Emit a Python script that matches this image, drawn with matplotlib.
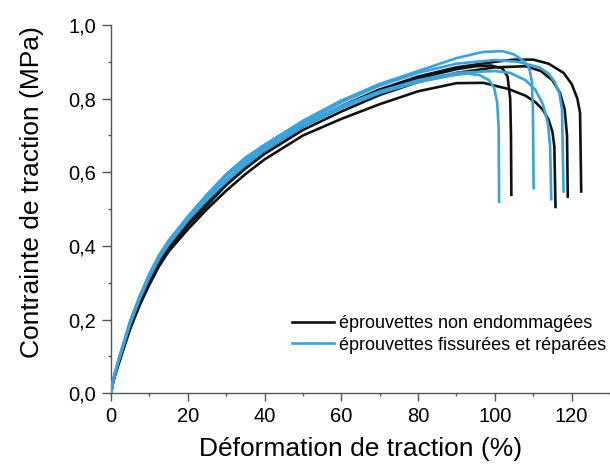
import matplotlib
matplotlib.use("Agg")
import matplotlib.pyplot as plt
from matplotlib.ticker import FuncFormatter, MultipleLocator

# Courbes contrainte-déformation, lues sur la figure
# éprouvettes non endommagées (noir)
STRAIN_NE1 = [0, 0.5, 1, 2, 3.5, 5, 7.5, 10, 12.5, 15, 20, 25, 30, 35, 40, 50, 60, 70, 80, 90,
              95, 99, 102, 103.3, 104, 104.2, 104.3]
STRESS_NE1 = [0, 0.03, 0.05, 0.085, 0.135, 0.185, 0.25, 0.305, 0.355, 0.395, 0.46, 0.52, 0.575, 0.62, 0.66, 0.725, 0.775, 0.82, 0.855, 0.88,
              0.888, 0.89, 0.882, 0.86, 0.80, 0.70, 0.539]

STRAIN_NE2 = [0, 0.5, 1, 2, 3.5, 5, 7.5, 10, 12.5, 15, 20, 25, 30, 35, 40, 50, 60, 70, 80, 90,
              97, 103.6, 108, 110.6, 112.5, 114, 115, 115.5, 115.8]
STRESS_NE2 = [0, 0.028, 0.047, 0.08, 0.128, 0.175, 0.24, 0.295, 0.345, 0.385, 0.445, 0.5, 0.55, 0.595, 0.635, 0.7, 0.745, 0.785, 0.82, 0.842,
              0.843, 0.826, 0.808, 0.79, 0.77, 0.743, 0.71, 0.67, 0.506]

STRAIN_NE3 = [0, 0.5, 1, 2, 3.5, 5, 7.5, 10, 12.5, 15, 20, 25, 30, 35, 40, 50, 60, 70, 80, 90,
              100, 108, 112, 115, 117, 118.2, 118.8, 119]
STRESS_NE3 = [0, 0.03, 0.05, 0.083, 0.132, 0.18, 0.245, 0.3, 0.35, 0.39, 0.455, 0.51, 0.565, 0.61, 0.65, 0.715, 0.765, 0.81, 0.845, 0.87,
              0.885, 0.888, 0.875, 0.85, 0.815, 0.77, 0.70, 0.534]

STRAIN_NE4 = [0, 0.5, 1, 2, 3.5, 5, 7.5, 10, 12.5, 15, 20, 25, 30, 35, 40, 50, 60, 70, 80, 90,
              100, 105, 110, 114, 117.9, 120, 121.5, 122.2, 122.5]
STRESS_NE4 = [0, 0.03, 0.05, 0.085, 0.135, 0.185, 0.25, 0.305, 0.355, 0.395, 0.46, 0.52, 0.57, 0.62, 0.66, 0.725, 0.78, 0.825, 0.86, 0.885,
              0.9, 0.906, 0.906, 0.895, 0.87, 0.84, 0.80, 0.761, 0.548]

# éprouvettes fissurées et réparées (bleu)
STRAIN_FR1 = [0, 0.5, 1, 2, 3.5, 5, 7.5, 10, 12.5, 15, 20, 25, 30, 35, 40, 50, 60, 70, 80, 90,
              93, 96, 98.5, 99.8, 100.6, 101, 101.1]
STRESS_FR1 = [0, 0.032, 0.053, 0.09, 0.14, 0.19, 0.258, 0.315, 0.365, 0.405, 0.47, 0.525, 0.575, 0.62, 0.66, 0.725, 0.775, 0.815, 0.845, 0.865,
              0.868, 0.864, 0.85, 0.83, 0.79, 0.72, 0.52]

STRAIN_FR2 = [0, 0.5, 1, 2, 3.5, 5, 7.5, 10, 12.5, 15, 20, 25, 30, 35, 40, 50, 60, 70, 80, 90,
              97, 102, 105, 107.5, 108.9, 109.6, 109.9, 110.1]
STRESS_FR2 = [0, 0.033, 0.055, 0.093, 0.145, 0.197, 0.265, 0.325, 0.375, 0.415, 0.48, 0.54, 0.595, 0.64, 0.675, 0.74, 0.795, 0.84, 0.875, 0.91,
              0.927, 0.929, 0.92, 0.902, 0.885, 0.85, 0.78, 0.557]

STRAIN_FR3 = [0, 0.5, 1, 2, 3.5, 5, 7.5, 10, 12.5, 15, 20, 25, 30, 35, 40, 50, 60, 70, 80, 90,
              100, 104, 108, 110.5, 112.5, 113.8, 114.4, 114.7]
STRESS_FR3 = [0, 0.032, 0.053, 0.09, 0.14, 0.19, 0.258, 0.318, 0.368, 0.405, 0.47, 0.53, 0.58, 0.625, 0.665, 0.73, 0.78, 0.82, 0.85, 0.87,
              0.875, 0.87, 0.85, 0.825, 0.785, 0.734, 0.67, 0.527]

STRAIN_FR4 = [0, 0.5, 1, 2, 3.5, 5, 7.5, 10, 12.5, 15, 20, 25, 30, 35, 40, 50, 60, 70, 80, 90,
              100, 106, 111.6, 114, 115.6, 116.8, 117.5, 117.9]
STRESS_FR4 = [0, 0.032, 0.054, 0.092, 0.143, 0.195, 0.262, 0.32, 0.37, 0.41, 0.475, 0.535, 0.59, 0.632, 0.67, 0.735, 0.79, 0.835, 0.87, 0.895,
              0.905, 0.9, 0.885, 0.868, 0.845, 0.815, 0.77, 0.548]

LABEL_NE = "éprouvettes non endommagées"
LABEL_FR = "éprouvettes fissurées et réparées"
XLABEL = "Déformation de traction (%)"
YLABEL = "Contrainte de traction (MPa)"

BLACK = "#111111"
BLUE = "#38a3dd"
AXIS_GREY = "#555555"

plt.rcParams["font.family"] = ["Liberation Sans", "DejaVu Sans"]

fig = plt.figure(figsize=(6.1, 4.68), dpi=100)
ax = fig.add_axes([0.182, 0.1596, 0.818, 0.787])

black_curves = [(STRAIN_NE1, STRESS_NE1), (STRAIN_NE2, STRESS_NE2),
                (STRAIN_NE3, STRESS_NE3), (STRAIN_NE4, STRESS_NE4)]
blue_curves = [(STRAIN_FR1, STRESS_FR1), (STRAIN_FR2, STRESS_FR2),
               (STRAIN_FR3, STRESS_FR3), (STRAIN_FR4, STRESS_FR4)]

for i, (x, y) in enumerate(black_curves):
    ax.plot(x, y, color=BLACK, lw=1.9, solid_joinstyle="round",
            label=LABEL_NE if i == 0 else None, zorder=2)
for i, (x, y) in enumerate(blue_curves):
    ax.plot(x, y, color=BLUE, lw=1.9, solid_joinstyle="round",
            label=LABEL_FR if i == 0 else None, zorder=3)

ax.set_xlim(0, 130)
ax.set_ylim(0, 1.0)
ax.xaxis.set_major_locator(MultipleLocator(20))
ax.xaxis.set_minor_locator(MultipleLocator(10))
ax.yaxis.set_major_locator(MultipleLocator(0.2))
ax.yaxis.set_minor_locator(MultipleLocator(0.1))
ax.yaxis.set_major_formatter(FuncFormatter(lambda v, p: f"{v:.1f}".replace(".", ",")))

for side in ("top", "right"):
    ax.spines[side].set_visible(False)
for side in ("left", "bottom"):
    ax.spines[side].set_color(AXIS_GREY)
    ax.spines[side].set_linewidth(1.0)

ax.tick_params(which="major", direction="out", length=5.5, width=1.0, color=AXIS_GREY,
               labelsize=14.5, pad=4)
ax.tick_params(which="minor", direction="out", length=2.5, width=1.0, color=AXIS_GREY)
ax.tick_params(axis="y", which="major", length=6.5)

ax.set_xlabel(XLABEL, fontsize=19, labelpad=8)
ax.set_ylabel(YLABEL, fontsize=19)
ax.yaxis.set_label_coords(-0.135, 0.546)

ax.legend(loc="upper left", bbox_to_anchor=(292 / 610, 1 - 315 / 468),
          bbox_transform=fig.transFigure, frameon=False, borderpad=0,
          borderaxespad=0, handlelength=2.3, handletextpad=0.3,
          labelspacing=0.25, fontsize=13)

fig.savefig("out.png", dpi=100)
